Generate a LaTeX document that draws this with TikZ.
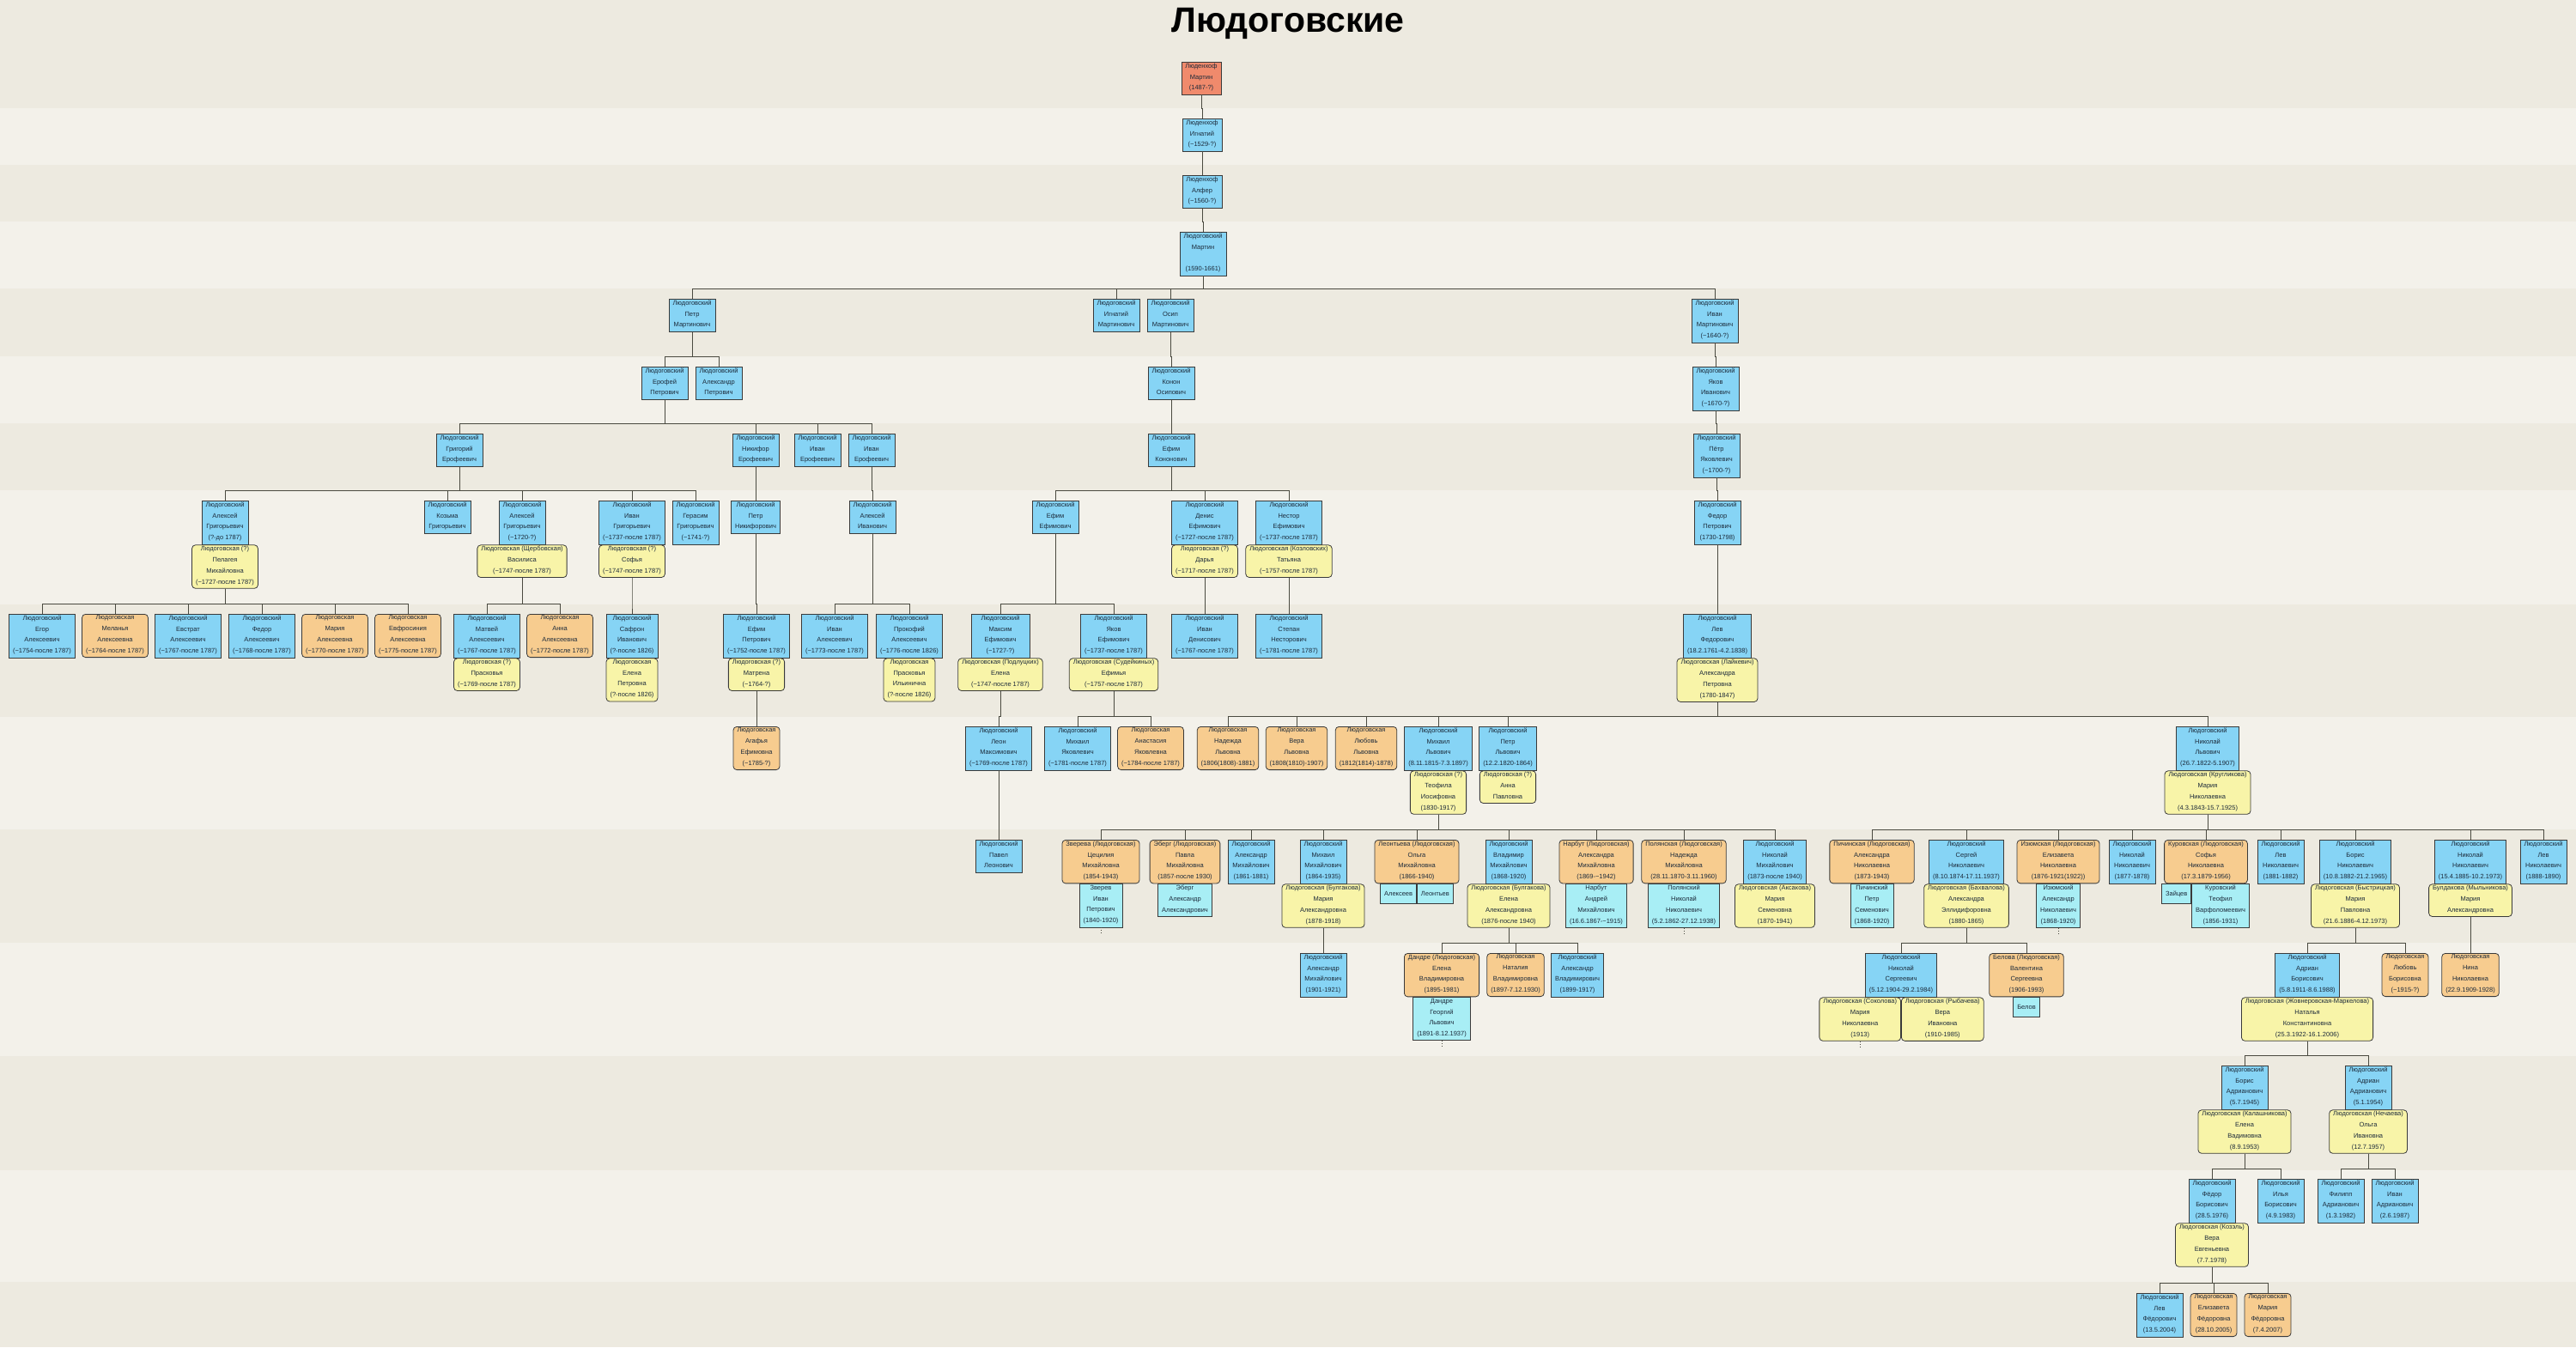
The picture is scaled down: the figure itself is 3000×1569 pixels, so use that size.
\documentclass[tikz,border=0pt]{standalone}
\usepackage{fontspec}
\setmainfont{Liberation Sans}
\definecolor{Malecol}{HTML}{86D4F5}
\definecolor{Femcol}{HTML}{F7CC8F}
\definecolor{Wifecol}{HTML}{F8F4A8}
\definecolor{Husbcol}{HTML}{A8EEF5}
\definecolor{Rootcol}{HTML}{F08A6C}
\definecolor{Textcol}{HTML}{1C2A3A}
\definecolor{Linecol}{HTML}{3A3A3A}
\definecolor{Linkcol}{HTML}{4A4A40}
\definecolor{Bgcol}{HTML}{EDEAE0}
\definecolor{Bandcol}{HTML}{F3F1EA}
\usetikzlibrary{positioning}
\tikzset{
    person/.style={draw=Linecol, line width=0.8pt, align=center, anchor=north,
        font=\fontsize{7.5}{12.8}\selectfont, text=Textcol,
        inner xsep=4.5pt, inner ysep=1.4pt,
        execute at begin node=\strut, execute at end node=\strut},
    male/.style={person, fill=Malecol},
    female/.style={person, fill=Femcol, rounded corners=4pt},
    wife/.style={person, fill=Wifecol, rounded corners=4pt},
    husb/.style={person, fill=Husbcol},
    root/.style={person, fill=Rootcol},
    link/.style={draw=Linkcol, line width=1pt}
}
\newcommand{\circa}{\textasciitilde}
% parent (or couple) to its children
\newcommand{\kids}[2]{%
    \foreach \c in {#2}{\draw[link] (#1.south) |- ([yshift=11.5pt]\c.north) -- (\c.north);}%
}

\begin{document}
\begin{tikzpicture}[x=1pt, y=-1pt]
    \useasboundingbox (0,0) rectangle (3000,1569);

    % Background bands
    \fill[Bgcol] (0,0) rectangle (3000,1569);
    \foreach \ya/\yb in {126/192, 258/336, 415/493, 571/704, 835/966, 1098/1230, 1363/1493}
        \fill[Bandcol] (0,\ya) rectangle (3000,\yb);

    % Title
    \node[font=\fontsize{41}{41}\bfseries\selectfont, anchor=base] (title) at (1500,37) {Людоговские};

    % Generations 1-4
    \node[root] (martinL) at (1399,72) {Люденхоф\\Мартин\\(1487-?)};
    \node[male] (ignatL) at (1400,138) {Люденхоф\\Игнатий\\(\circa1529-?)};
    \node[male] (alfer) at (1400,204) {Люденхоф\\Алфер\\(\circa1560-?)};
    \node[male] (martin) at (1401,270) {Людоговский\\Мартин\\~\\(1590-1661)};

    % Generation 5
    \node[male] (petrM) at (806,348) {Людоговский\\Петр\\Мартинович};
    \node[male] (ignatM) at (1300,348) {Людоговский\\Игнатий\\Мартинович};
    \node[male] (osipM) at (1363,348) {Людоговский\\Осип\\Мартинович};
    \node[male] (ivanM) at (1997,348) {Людоговский\\Иван\\Мартинович\\(\circa1640-?)};

    % Generation 6
    \node[male] (erofei) at (774,427) {Людоговский\\Ерофей\\Петрович};
    \node[male] (aleksP) at (837,427) {Людоговский\\Александр\\Петрович};
    \node[male] (konon) at (1364,427) {Людоговский\\Конон\\Осипович};
    \node[male] (yakovI) at (1998,427) {Людоговский\\Яков\\Иванович\\(\circa1670-?)};

    % Generation 7
    \node[male] (grigor) at (535,505) {Людоговский\\Григорий\\Ерофеевич};
    \node[male] (nikif) at (880,505) {Людоговский\\Никифор\\Ерофеевич};
    \node[male] (ivanE) at (952,505) {Людоговский\\Иван\\Ерофеевич};
    \node[male] (ivanEE) at (1015,505) {Людоговский\\Иван\\Ерофеевич};
    \node[male] (efimK) at (1364,505) {Людоговский\\Ефим\\Кононович};
    \node[male] (petrYa) at (1999,505) {Людоговский\\Пётр\\Яковлевич\\(\circa1700-?)};

    % Generation 8
    \node[male] (aleksG) at (262,583) {Людоговский\\Алексей\\Григорьевич\\(?-до 1787)};
    \node[wife, below=0pt of aleksG] (pelag) {Людоговская (?)\\Пелагея\\Михайловна\\(\circa1727-после 1787)};
    \node[male] (kozma) at (521,583) {Людоговский\\Козьма\\Григорьевич};
    \node[male] (aleksGG) at (608,583) {Людоговский\\Алексей\\Григорьевич\\(\circa1720-?)};
    \node[wife, below=0pt of aleksGG] (vasil) {Людоговская (Щербовская)\\Василиса\\(\circa1747-после 1787)};
    \node[male] (ivanG) at (736,583) {Людоговский\\Иван\\Григорьевич\\(\circa1737-после 1787)};
    \node[wife, below=0pt of ivanG] (sofyaG) {Людоговская (?)\\Софья\\(\circa1747-после 1787)};
    \node[male] (gerasim) at (810,583) {Людоговский\\Герасим\\Григорьевич\\(\circa1741-?)};
    \node[male] (petrN) at (880,583) {Людоговский\\Петр\\Никифорович};
    \node[male] (aleksI) at (1016,583) {Людоговский\\Алексей\\Иванович};
    \node[male] (efimE) at (1229,583) {Людоговский\\Ефим\\Ефимович};
    \node[male] (denis) at (1403,583) {Людоговский\\Денис\\Ефимович\\(\circa1727-после 1787)};
    \node[wife, below=0pt of denis] (darya) {Людоговская (?)\\Дарья\\(\circa1717-после 1787)};
    \node[male] (nestor) at (1501,583) {Людоговский\\Нестор\\Ефимович\\(\circa1737-после 1787)};
    \node[wife, below=0pt of nestor] (tatyana) {Людоговская (Козловских)\\Татьяна\\(\circa1757-после 1787)};
    \node[male] (fedorP) at (2000,583) {Людоговский\\Федор\\Петрович\\(1730-1798)};

    % Generation 9
    \node[male] (egor) at (49,715) {Людоговский\\Егор\\Алексеевич\\(\circa1754-после 1787)};
    \node[female] (melan) at (134,715) {Людоговская\\Меланья\\Алексеевна\\(\circa1764-после 1787)};
    \node[male] (evstrat) at (219,715) {Людоговский\\Евстрат\\Алексеевич\\(\circa1767-после 1787)};
    \node[male] (fedorA) at (305,715) {Людоговский\\Федор\\Алексеевич\\(\circa1768-после 1787)};
    \node[female] (mariaAl) at (390,715) {Людоговская\\Мария\\Алексеевна\\(\circa1770-после 1787)};
    \node[female] (evfros) at (475,715) {Людоговская\\Евфросиния\\Алексеевна\\(\circa1775-после 1787)};
    \node[male] (matvei) at (567,715) {Людоговский\\Матвей\\Алексеевич\\(\circa1767-после 1787)};
    \node[wife, below=0pt of matvei] (praskov) {Людоговская (?)\\Прасковья\\(\circa1769-после 1787)};
    \node[female] (annaA) at (652,715) {Людоговская\\Анна\\Алексеевна\\(\circa1772-после 1787)};
    \node[male] (safron) at (736,715) {Людоговский\\Сафрон\\Иванович\\(?-после 1826)};
    \node[wife, below=0pt of safron] (elenaP) {Людоговская\\Елена\\Петровна\\(?-после 1826)};
    \node[male] (efimP) at (881,715) {Людоговский\\Ефим\\Петрович\\(\circa1752-после 1787)};
    \node[wife, below=0pt of efimP] (matrena) {Людоговская (?)\\Матрена\\(\circa1764-?)};
    \node[male] (ivanA) at (972,715) {Людоговский\\Иван\\Алексеевич\\(\circa1773-после 1787)};
    \node[male] (prokof) at (1059,715) {Людоговский\\Прокофий\\Алексеевич\\(\circa1776-после 1826)};
    \node[wife, below=0pt of prokof] (praskI) {Людоговская\\Прасковья\\Ильинична\\(?-после 1826)};
    \node[male, minimum width=68pt] (maksim) at (1165,715) {Людоговский\\Максим\\Ефимович\\(\circa1727-?)};
    \node[wife, below=0pt of maksim] (elenaPod) {Людоговская (Подлуцких)\\Елена\\(\circa1747-после 1787)};
    \node[male] (yakovE) at (1297,715) {Людоговский\\Яков\\Ефимович\\(\circa1737-после 1787)};
    \node[wife, below=0pt of yakovE] (efimya) {Людоговская (Судейкиных)\\Ефимья\\(\circa1757-после 1787)};
    \node[male] (ivanD) at (1403,715) {Людоговский\\Иван\\Денисович\\(\circa1767-после 1787)};
    \node[male] (stepan) at (1501,715) {Людоговский\\Степан\\Несторович\\(\circa1781-после 1787)};
    \node[male] (lev) at (2000,715) {Людоговский\\Лев\\Федорович\\(18.2.1761-4.2.1838)};
    \node[wife, below=0pt of lev] (aleksandra) {Людоговская (Лайкевич)\\Александра\\Петровна\\(1780-1847)};

    % Generation 10
    \node[female] (agafya) at (881,846) {Людоговская\\Агафья\\Ефимовна\\(\circa1785-?)};
    \node[male] (leon) at (1163,846) {Людоговский\\Леон\\Максимович\\(\circa1769-после 1787)};
    \node[male] (mikhYa) at (1255,846) {Людоговский\\Михаил\\Яковлевич\\(\circa1781-после 1787)};
    \node[female] (anastas) at (1340,846) {Людоговская\\Анастасия\\Яковлевна\\(\circa1784-после 1787)};
    \node[female] (nadezhdaL) at (1430,846) {Людоговская\\Надежда\\Львовна\\(1806(1808)-1881)};
    \node[female] (veraL) at (1510,846) {Людоговская\\Вера\\Львовна\\(1808(1810)-1907)};
    \node[female] (lyubovL) at (1591,846) {Людоговская\\Любовь\\Львовна\\(1812(1814)-1878)};
    \node[male] (mikhL) at (1675,846) {Людоговский\\Михаил\\Львович\\(8.11.1815-7.3.1897)};
    \node[wife, below=0pt of mikhL] (teofila) {Людоговская (?)\\Теофила\\Иосифовна\\(1830-1917)};
    \node[male] (petrL) at (1756,846) {Людоговский\\Петр\\Львович\\(12.2.1820-1864)};
    \node[wife, below=0pt of petrL] (annaP) {Людоговская (?)\\Анна\\Павловна};
    \node[male] (nikolL) at (2571,846) {Людоговский\\Николай\\Львович\\(26.7.1822-5.1907)};
    \node[wife, below=0pt of nikolL] (mariaK) {Людоговская (Кругликова)\\Мария\\Николаевна\\(4.3.1843-15.7.1925)};

    % Generation 11
    \node[male] (pavel) at (1163,978) {Людоговский\\Павел\\Леонович};
    \node[female] (tsetsil) at (1282,978) {Зверева (Людоговская)\\Цецилия\\Михайловна\\(1854-1943)};
    \node[husb, below=0pt of tsetsil] (zverev) {Зверев\\Иван\\Петрович\\(1840-1920)};
    \node[female] (pavla) at (1380,978) {Эберг (Людоговская)\\Павла\\Михайловна\\(1857-после 1930)};
    \node[husb, below=0pt of pavla] (eberg) {Эберг\\Александр\\Александрович};
    \node[male] (aleksM) at (1457,978) {Людоговский\\Александр\\Михайлович\\(1861-1881)};
    \node[male] (mikhM) at (1541,978) {Людоговский\\Михаил\\Михайлович\\(1864-1935)};
    \node[wife, below=0pt of mikhM] (mariaB) {Людоговская (Булгакова)\\Мария\\Александровна\\(1878-1918)};
    \node[female] (olga) at (1650,978) {Леонтьева (Людоговская)\\Ольга\\Михайловна\\(1866-1940)};
    \node[husb, anchor=north east, minimum height=23pt] (alekseev) at (olga.south) {Алексеев};
    \node[husb, anchor=north west, minimum height=23pt] (leontev) at (olga.south) {Леонтьев};
    \node[male] (vladim) at (1757,978) {Людоговский\\Владимир\\Михайлович\\(1868-1920)};
    \node[wife, below=0pt of vladim] (elenaB) {Людоговская (Булгакова)\\Елена\\Александровна\\(1876-после 1940)};
    \node[female] (aleksMi) at (1859,978) {Нарбут (Людоговская)\\Александра\\Михайловна\\(1869-\circa1942)};
    \node[husb, below=0pt of aleksMi] (narbut) {Нарбут\\Андрей\\Михайлович\\(16.6.1867-\circa1915)};
    \node[female] (nadezhdaM) at (1961,978) {Полянская (Людоговская)\\Надежда\\Михайловна\\(28.11.1870-3.11.1960)};
    \node[husb, below=0pt of nadezhdaM] (polyan) {Полянский\\Николай\\Николаевич\\(5.2.1862-27.12.1938)};
    \node[male] (nikolM) at (2067,978) {Людоговский\\Николай\\Михайлович\\(1873-после 1940)};
    \node[wife, below=0pt of nikolM] (mariaA) {Людоговская (Аксакова)\\Мария\\Семеновна\\(1870-1941)};
    \node[female] (aleksN) at (2180,978) {Пичинская (Людоговская)\\Александра\\Николаевна\\(1873-1943)};
    \node[husb, below=0pt of aleksN] (pichin) {Пичинский\\Петр\\Семенович\\(1868-1920)};
    \node[male] (sergei) at (2290,978) {Людоговский\\Сергей\\Николаевич\\(8.10.1874-17.11.1937)};
    \node[wife, below=0pt of sergei] (bakhval) {Людоговская (Бахвалова)\\Александра\\Эллидифоровна\\(1880-1865)};
    \node[female] (elizN) at (2397,978) {Изюмская (Людоговская)\\Елизавета\\Николаевна\\(1876-1921(1922))};
    \node[husb, below=0pt of elizN] (izyum) {Изюмский\\Александр\\Николаевич\\(1868-1920)};
    \node[male] (nikolNa) at (2483,978) {Людоговский\\Николай\\Николаевич\\(1877-1878)};
    \node[female] (sofyaN) at (2569,978) {Куровская (Людоговская)\\Софья\\Николаевна\\(17.3.1879-1956)};
    \node[husb, anchor=north east] (kurov) at ([xshift=2pt]sofyaN.south east) {Куровский\\Теофил\\Варфоломеевич\\(1856-1931)};
    \node[husb, anchor=north east, minimum height=23pt] (zaitsev) at (kurov.north west) {Зайцев};
    \node[male] (levNa) at (2656,978) {Людоговский\\Лев\\Николаевич\\(1881-1882)};
    \node[male] (boris) at (2743,978) {Людоговский\\Борис\\Николаевич\\(10.8.1882-21.2.1965)};
    \node[wife, below=0pt of boris] (mariaBy) {Людоговская (Быстрицкая)\\Мария\\Павловна\\(21.6.1886-4.12.1973)};
    \node[male] (nikolNb) at (2877,978) {Людоговский\\Николай\\Николаевич\\(15.4.1885-10.2.1973)};
    \node[wife, below=0pt of nikolNb] (buldak) {Булдакова (Мыльникова)\\Мария\\Александровна};
    \node[male] (levNb) at (2962,978) {Людоговский\\Лев\\Николаевич\\(1888-1890)};

    % Generation 12
    \node[male] (aleksMM) at (1541,1110) {Людоговский\\Александр\\Михайлович\\(1901-1921)};
    \node[female] (elenaV) at (1679,1110) {Дандре (Людоговская)\\Елена\\Владимировна\\(1895-1981)};
    \node[husb, below=0pt of elenaV] (dandre) {Дандре\\Георгий\\Львович\\(1891-8.12.1937)};
    \node[female] (nataliaV) at (1765,1110) {Людоговская\\Наталия\\Владимировна\\(1897-7.12.1930)};
    \node[male] (aleksV) at (1837,1110) {Людоговский\\Александр\\Владимирович\\(1899-1917)};
    \node[male] (nikolS) at (2214,1110) {Людоговский\\Николай\\Сергеевич\\(5.12.1904-29.2.1984)};
    \node[wife, anchor=north east] (sokol) at (nikolS.south) {Людоговская (Соколова)\\Мария\\Николаевна\\(1913)};
    \node[wife, anchor=north west] (rybach) at (nikolS.south) {Людоговская (Рыбачева)\\Вера\\Ивановна\\(1910-1985)};
    \node[female] (valent) at (2360,1110) {Белова (Людоговская)\\Валентина\\Сергеевна\\(1906-1993)};
    \node[husb, below=0pt of valent, minimum height=23pt] (belov) {Белов};
    \node[male] (adrian) at (2687,1110) {Людоговский\\Адриан\\Борисович\\(5.8.1911-8.6.1988)};
    \node[wife, below=0pt of adrian] (natalya) {Людоговская (Жовнеровская-Маркелова)\\Наталья\\Константиновна\\(25.3.1922-16.1.2006)};
    \node[female] (lyubovB) at (2801,1110) {Людоговская\\Любовь\\Борисовна\\(\circa1915-?)};
    \node[female] (nina) at (2877,1110) {Людоговская\\Нина\\Николаевна\\(22.9.1909-1928)};

    % Generation 13
    \node[male] (borisA) at (2614,1241) {Людоговский\\Борис\\Адрианович\\(5.7.1945)};
    \node[wife, below=0pt of borisA] (elenaK) {Людоговская (Калашникова)\\Елена\\Вадимовна\\(8.9.1953)};
    \node[male] (adrianA) at (2758,1241) {Людоговский\\Адриан\\Адрианович\\(5.1.1954)};
    \node[wife, below=0pt of adrianA] (olgaN) {Людоговская (Нечаева)\\Ольга\\Ивановна\\(12.7.1957)};

    % Generation 14
    \node[male] (fedorB) at (2576,1373) {Людоговский\\Фёдор\\Борисович\\(28.5.1976)};
    \node[wife, below=0pt of fedorB] (veraK) {Людоговская (Козэль)\\Вера\\Евгеньевна\\(7.7.1978)};
    \node[male] (ilya) at (2656,1373) {Людоговский\\Илья\\Борисович\\(4.9.1983)};
    \node[male] (filipp) at (2726,1373) {Людоговский\\Филипп\\Адрианович\\(1.3.1982)};
    \node[male] (ivanAd) at (2789,1373) {Людоговский\\Иван\\Адрианович\\(2.6.1987)};

    % Generation 15
    \node[male] (levF) at (2515,1506) {Людоговский\\Лев\\Фёдорович\\(13.5.2004)};
    \node[female] (elizF) at (2578,1506) {Людоговская\\Елизавета\\Фёдоровна\\(28.10.2005)};
    \node[female] (mariaF) at (2641,1506) {Людоговская\\Мария\\Фёдоровна\\(7.4.2007)};

    % Descent lines
    \kids{martinL}{ignatL}
    \kids{ignatL}{alfer}
    \kids{alfer}{martin}
    \kids{martin}{petrM, ignatM, osipM, ivanM}
    \kids{petrM}{erofei, aleksP}
    \kids{osipM}{konon}
    \kids{ivanM}{yakovI}
    \kids{erofei}{grigor, nikif, ivanE, ivanEE}
    \kids{konon}{efimK}
    \kids{yakovI}{petrYa}
    \kids{grigor}{aleksG, kozma, aleksGG, ivanG, gerasim}
    \kids{nikif}{petrN}
    \kids{ivanEE}{aleksI}
    \kids{efimK}{efimE, denis, nestor}
    \kids{petrYa}{fedorP}
    \kids{pelag}{egor, melan, evstrat, fedorA, mariaAl, evfros}
    \kids{vasil}{matvei, annaA}
    \kids{sofyaG}{safron}
    \kids{petrN}{efimP}
    \kids{aleksI}{ivanA, prokof}
    \kids{efimE}{maksim, yakovE}
    \kids{darya}{ivanD}
    \kids{tatyana}{stepan}
    \kids{fedorP}{lev}
    \kids{matrena}{agafya}
    \kids{elenaPod}{leon}
    \kids{efimya}{mikhYa, anastas}
    \kids{aleksandra}{nadezhdaL, veraL, lyubovL, mikhL, petrL, nikolL}
    \kids{leon}{pavel}
    \kids{teofila}{tsetsil, pavla, aleksM, mikhM, olga, vladim, aleksMi, nadezhdaM, nikolM}
    \kids{mariaK}{aleksN, sergei, elizN, nikolNa, sofyaN, levNa, boris, nikolNb, levNb}
    \kids{mariaB}{aleksMM}
    \kids{elenaB}{elenaV, nataliaV, aleksV}
    \kids{bakhval}{nikolS, valent}
    \kids{mariaBy}{adrian, lyubovB}
    \kids{buldak}{nina}
    \kids{natalya}{borisA, adrianA}
    \kids{elenaK}{fedorB, ilya}
    \kids{olgaN}{filipp, ivanAd}
    \kids{veraK}{levF, elizF, mariaF}

    % Lines that go on past the picture
    \foreach \p in {zverev, polyan, izyum, dandre, sokol}
        \draw[link, dotted] (\p.south) -- ++(0,8);
\end{tikzpicture}
\end{document}
